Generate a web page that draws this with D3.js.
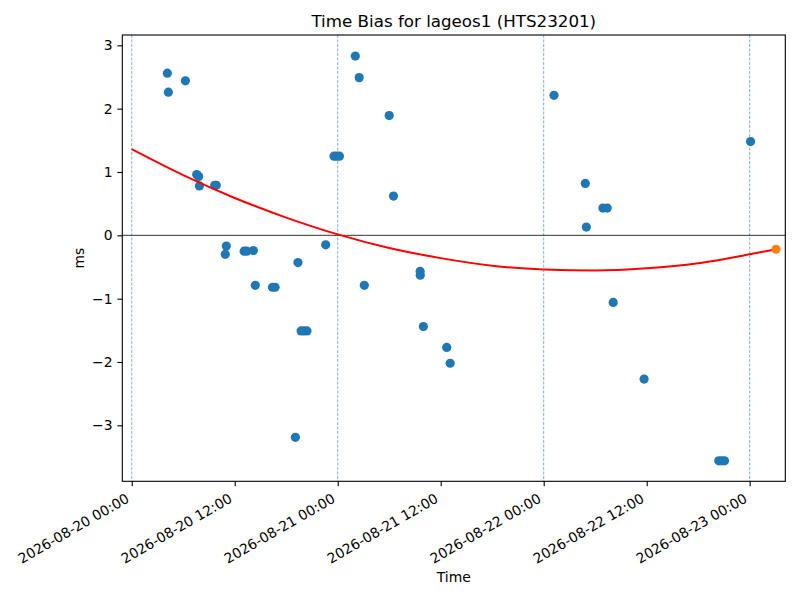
<!DOCTYPE html>
<html>
<head>
<meta charset="utf-8">
<script src="https://cdn.jsdelivr.net/npm/d3@7"></script>
<style>
  body { margin: 0; background: #fff; }
  text { font-family: "DejaVu Sans", sans-serif; fill: #000; }
</style>
</head>
<body>
<div id="chart"></div>
<script>
// observation times (UTC) and time bias in ms
const obsTimes = [
  "2026-08-20 04:09", "2026-08-20 04:16", "2026-08-20 06:15", "2026-08-20 07:34",
  "2026-08-20 07:48", "2026-08-20 07:53", "2026-08-20 09:40", "2026-08-20 09:51",
  "2026-08-20 10:54", "2026-08-20 11:01", "2026-08-20 13:06", "2026-08-20 13:24",
  "2026-08-20 14:10", "2026-08-20 14:24", "2026-08-20 16:24", "2026-08-20 16:42",
  "2026-08-20 19:04", "2026-08-20 19:22", "2026-08-20 19:44", "2026-08-20 20:04",
  "2026-08-20 20:25", "2026-08-20 22:36", "2026-08-20 23:34", "2026-08-20 23:53",
  "2026-08-21 00:12", "2026-08-21 02:03", "2026-08-21 02:30", "2026-08-21 03:06",
  "2026-08-21 06:00", "2026-08-21 06:30", "2026-08-21 09:36", "2026-08-21 09:37",
  "2026-08-21 09:59", "2026-08-21 12:42", "2026-08-21 13:06", "2026-08-22 01:12",
  "2026-08-22 04:51", "2026-08-22 04:58", "2026-08-22 06:54", "2026-08-22 07:24",
  "2026-08-22 08:06", "2026-08-22 11:42", "2026-08-22 20:24", "2026-08-22 20:44",
  "2026-08-22 21:04", "2026-08-23 00:06"
];
const obsBias = [
  2.56, 2.26, 2.44, 0.96,
  0.93, 0.78, 0.79, 0.79,
  -0.30, -0.17, -0.25, -0.25,
  -0.24, -0.79, -0.82, -0.82,
  -3.19, -0.43, -1.51, -1.51,
  -1.51, -0.15, 1.25, 1.25,
  1.25, 2.83, 2.49, -0.79,
  1.89, 0.62, -0.57, -0.63,
  -1.44, -1.77, -2.02, 2.21,
  0.82, 0.13, 0.43, 0.43,
  -1.06, -2.27, -3.56, -3.56,
  -3.56, 1.48
];

// fitted trend
const fitTimes = [
  "2026-08-20 00:00", "2026-08-20 06:00", "2026-08-20 12:00", "2026-08-20 18:00",
  "2026-08-21 00:00", "2026-08-21 06:00", "2026-08-21 12:00", "2026-08-21 18:00",
  "2026-08-22 00:00", "2026-08-22 06:00", "2026-08-22 12:00", "2026-08-22 18:00",
  "2026-08-23 00:00", "2026-08-23 03:04"
];
const fitBias = [
  1.36, 0.95, 0.59, 0.28,
  0.015, -0.20, -0.36, -0.48,
  -0.54, -0.555, -0.52, -0.44,
  -0.30, -0.22
];

// predicted point
const predTime = "2026-08-23 03:04";
const predBias = -0.22;

const dayLines = ["2026-08-20 00:00", "2026-08-21 00:00", "2026-08-22 00:00", "2026-08-23 00:00"];
const yTicks = [-3, -2, -1, 0, 1, 2, 3];
const xRange = ["2026-08-19 22:54", "2026-08-23 04:09"];
const yRange = [-3.884, 3.163];

const parse = d3.utcParse("%Y-%m-%d %H:%M");
const fmt = d3.utcFormat("%Y-%m-%d %H:%M");

const margin = {top: 35, right: 14.7, bottom: 118.7, left: 122.3},
    width = 800 - margin.left - margin.right,
    height = 600 - margin.top - margin.bottom;

const root = d3.select("#chart")
  .append("svg")
    .attr("width", 800)
    .attr("height", 600);

const svg = root.append("g")
    .attr("transform", `translate(${margin.left},${margin.top})`);

const x = d3.scaleUtc()
  .domain(xRange.map(parse))
  .range([0, width]);

const y = d3.scaleLinear()
  .domain(yRange)
  .range([height, 0]);

// day separators
svg.selectAll(".day")
  .data(dayLines)
  .join("line")
    .attr("x1", d => x(parse(d)))
    .attr("x2", d => x(parse(d)))
    .attr("y1", 0)
    .attr("y2", height)
    .attr("stroke", "#1f77b4")
    .attr("stroke-opacity", 0.7)
    .attr("stroke-width", 0.8)
    .attr("stroke-dasharray", "3,1.5");

// zero line
svg.append("line")
  .attr("x1", 0)
  .attr("x2", width)
  .attr("y1", y(0))
  .attr("y2", y(0))
  .attr("stroke", "#000")
  .attr("stroke-width", 0.8);

// observations
svg.selectAll(".obs")
  .data(obsTimes.map((t, i) => ({t: parse(t), v: obsBias[i]})))
  .join("circle")
    .attr("cx", d => x(d.t))
    .attr("cy", d => y(d.v))
    .attr("r", 4.6)
    .attr("fill", "#1f77b4");

// trend
const line = d3.line()
  .x(d => x(d.t))
  .y(d => y(d.v))
  .curve(d3.curveMonotoneX);

svg.append("path")
  .datum(fitTimes.map((t, i) => ({t: parse(t), v: fitBias[i]})))
  .attr("d", line)
  .attr("fill", "none")
  .attr("stroke", "#ff0000")
  .attr("stroke-width", 2);

// prediction
svg.append("circle")
  .attr("cx", x(parse(predTime)))
  .attr("cy", y(predBias))
  .attr("r", 4.6)
  .attr("fill", "#ff7f0e");

// X axis
const xAxis = svg.append("g")
  .attr("transform", `translate(0, ${height})`)
  .call(d3.axisBottom(x)
    .tickValues(d3.utcHour.every(12).range(parse("2026-08-20 00:00"), parse("2026-08-23 00:01")))
    .tickFormat(fmt)
    .tickSizeInner(4.9)
    .tickSizeOuter(0));
xAxis.selectAll("text")
  .attr("y", 0)
  .attr("dy", 0)
  .attr("transform", "translate(-2,20)rotate(-30)")
  .style("text-anchor", "end")
  .style("font-size", "13.9px");

// Y axis
const yAxis = svg.append("g")
  .call(d3.axisLeft(y)
    .tickValues(yTicks)
    .tickFormat(d => d < 0 ? "\u2212" + Math.abs(d) : d)
    .tickSizeInner(4.9)
    .tickSizeOuter(0)
    .tickPadding(4.9));
yAxis.selectAll("text").style("font-size", "13.9px");

[xAxis, yAxis].forEach(a => {
  a.select(".domain").remove();
  a.selectAll("line").attr("stroke-width", 1.1);
  a.attr("font-family", null);
});

// frame
svg.append("rect")
  .attr("width", width)
  .attr("height", height)
  .attr("fill", "none")
  .attr("stroke", "#000")
  .attr("stroke-width", 1.1);

// labels
root.append("text")
  .attr("x", margin.left + width / 2)
  .attr("y", 27)
  .attr("text-anchor", "middle")
  .style("font-size", "16.7px")
  .text("Time Bias for lageos1 (HTS23201)");

root.append("text")
  .attr("x", margin.left + width / 2)
  .attr("y", 582)
  .attr("text-anchor", "middle")
  .style("font-size", "13.9px")
  .text("Time");

root.append("text")
  .attr("transform", `translate(84,${margin.top + height / 2})rotate(-90)`)
  .attr("text-anchor", "middle")
  .style("font-size", "13.9px")
  .text("ms");
</script>
</body>
</html>
